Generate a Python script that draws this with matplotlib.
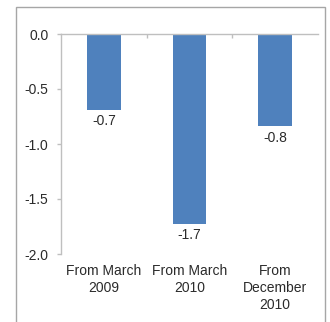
import matplotlib.pyplot as plt
from matplotlib.patches import Rectangle

plt.rcParams['font.family'] = ['Liberation Sans', 'DejaVu Sans']

categories = ['From March\n2009', 'From March\n2010', 'From\nDecember\n2010']
values = [-0.69, -1.73, -0.84]
labels = ['-0.7', '-1.7', '-0.8']
yticks = [0.0, -0.5, -1.0, -1.5, -2.0]

bar_color = '#4F81BD'
axis_color = '#BFBFBF'
text_color = '#2B2B2B'

fig = plt.figure(figsize=(3.30, 3.22), dpi=100)
# outer chart frame (bottom edge runs off the picture)
fig.patches.append(Rectangle((16 / 330, -0.1), (325 - 16) / 330, 1.1 - 7 / 322,
                             transform=fig.transFigure, fill=False,
                             edgecolor='#A6A6A6', linewidth=1.0))

ax = fig.add_axes([61 / 330, 1 - 254 / 322, (318 - 61) / 330, (254 - 34) / 322])
x = range(len(values))
bars = ax.bar(x, values, width=0.39, color=bar_color)
for b, lab in zip(bars, labels):
    ax.annotate(lab, (b.get_x() + b.get_width() / 2, b.get_height()),
                xytext=(0, -3), textcoords='offset points',
                ha='center', va='top', fontsize=10, color=text_color)

ax.set_ylim(-2.0, 0.0)
ax.set_xlim(-0.5, len(values) - 0.5)
ax.set_yticks(yticks)
ax.set_yticklabels(['{:.1f}'.format(v) for v in yticks])
ax.set_xticks(list(x))
ax.set_xticklabels(categories, linespacing=1.3)

for s in ['right', 'bottom']:
    ax.spines[s].set_visible(False)
for s in ['left', 'top']:
    ax.spines[s].set_color(axis_color)
    ax.spines[s].set_linewidth(1.0)

ax.tick_params(axis='y', length=3, width=1, color=axis_color, pad=6,
               labelsize=10, labelcolor=text_color)
ax.tick_params(axis='x', length=0, pad=7, labelsize=10, labelcolor=text_color)

# category separator ticks on the zero line
top = ax.secondary_xaxis('top')
top.set_xticks([i + 0.5 for i in range(len(values) - 1)])
top.tick_params(direction='in', length=3, width=1, color=axis_color, labeltop=False)
top.spines['top'].set_visible(False)

fig.savefig('out.png', dpi=100)
